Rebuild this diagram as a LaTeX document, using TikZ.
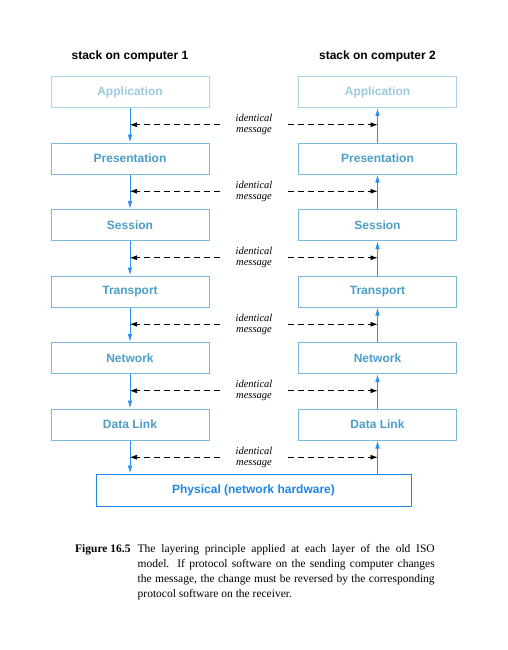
\documentclass[tikz,border=0pt]{standalone}
\usepackage{fontspec}
\setmainfont{Liberation Serif}
\setsansfont{Liberation Sans}
\usepackage{tikz}
\usetikzlibrary{arrows.meta,positioning}
\usepackage{xcolor}
\definecolor{layerframe}{HTML}{7AB9D9}
\definecolor{layertext}{HTML}{4A9EC8}
\definecolor{appframe}{HTML}{A9D2E6}
\definecolor{apptext}{HTML}{9CCAE0}
\definecolor{phyblue}{HTML}{1F86E6}
\definecolor{flowblue}{HTML}{2B90F0}

\begin{document}
\begin{tikzpicture}[x=1pt,y=-1pt,
  layer/.style={draw=layerframe, line width=1pt, minimum width=158pt, minimum height=31pt,
    inner sep=0pt, text=layertext, font=\sffamily\bfseries\fontsize{12}{14}\selectfont},
  applayer/.style={layer, draw=appframe, text=apptext},
  flow/.style={flowblue, line width=0.8pt, -{Latex[length=8pt,width=4.5pt]}},
  msg/.style={black, dashed, dash pattern=on 6pt off 4pt, line width=0.6pt,
    -{Latex[length=7pt,width=5pt]}},
  msglabel/.style={font=\itshape\fontsize{10.5}{11}\selectfont, align=center,
    inner xsep=15pt, inner ysep=0pt}]
  \useasboundingbox (0,0) rectangle (508,650);
  % titles above the two stacks
  \node[font=\sffamily\bfseries\fontsize{12}{14}\selectfont] (title1) at (130,56) {stack on computer 1};
  \node[font=\sffamily\bfseries\fontsize{12}{14}\selectfont] (title2) at (377.5,56) {stack on computer 2};
  % the two stacks of layers
  \node[applayer] (l1) at (130,92) {Application};
  \node[applayer] (r1) at (377.5,92) {Application};
  \foreach \name [count=\i from 2] in {Presentation,Session,Transport,Network,Data Link} {
    \node[layer] (l\i) at (130,{92+66.5*(\i-1)}) {\name};
    \node[layer] (r\i) at (377.5,{92+66.5*(\i-1)}) {\name};
  }
  \node[layer, draw=phyblue, text=phyblue, minimum width=315pt, minimum height=32pt]
    (phy) at (253.5,490) {Physical (network hardware)};
  % down on computer 1, up on computer 2
  \foreach \i [evaluate=\i as \j using int(\i+1)] in {1,...,5} {
    \draw[flow] (l\i.south) -- (l\j.north);
    \draw[flow] (r\j.north) -- (r\i.south);
  }
  \draw[flow] (l6.south) -- (l6.south |- phy.north);
  \draw[flow] (r6.south |- phy.north) -- (r6.south);
  % identical messages between peer layers
  \foreach \i [evaluate=\i as \y using {124.75+66.5*(\i-1)}] in {1,...,6} {
    \coordinate (ml\i) at (130,\y);
    \coordinate (mr\i) at (377.5,\y);
    \node[msglabel] (msg\i) at (254,\y) {identical\\message};
    \draw[msg] (msg\i.west) -- (ml\i);
    \draw[msg] (msg\i.east) -- (mr\i);
  }
  % caption
  \node[anchor=base west, inner sep=0pt, font=\bfseries\fontsize{11.5}{15}\selectfont]
    (figlabel) at (75,552) {Figure 16.5};
  \node[anchor=base west, inner sep=0pt, text width=297pt, align=justify,
    font=\fontsize{11.5}{15}\selectfont] (caption) at (137.5,552)
    {The layering principle applied at each layer of the old ISO\linebreak
     model. If protocol software on the sending computer changes\linebreak
     the message, the change must be reversed by the corresponding\linebreak
     protocol software on the receiver.};
\end{tikzpicture}
\end{document}
